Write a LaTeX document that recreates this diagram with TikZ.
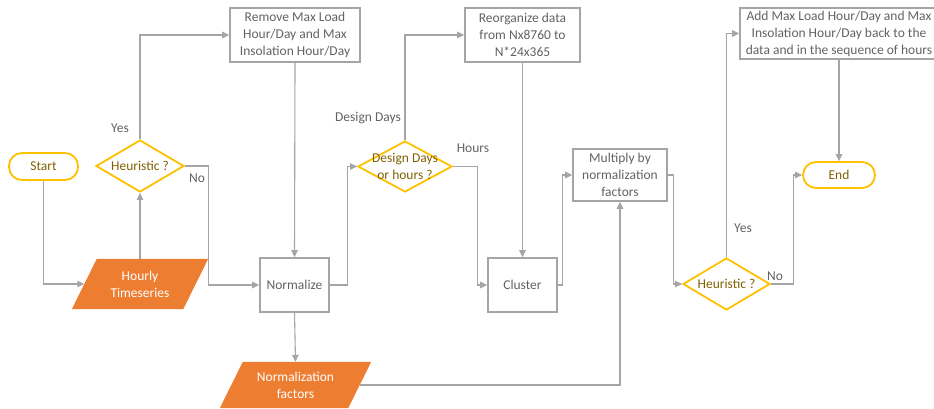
\documentclass[tikz,border=0pt]{standalone}
\usepackage{fontspec}
\setmainfont{Carlito}
\usetikzlibrary{shapes.geometric,arrows.meta,backgrounds}
\definecolor{linegray}{HTML}{A5A5A5}
\definecolor{txtgray}{HTML}{626262}
\definecolor{yel}{HTML}{FFC000}
\definecolor{gold}{HTML}{7F6000}
\definecolor{orng}{HTML}{ED7D31}
\tikzset{
  fnt/.style={font=\fontsize{13.5}{17}\selectfont},
  box/.style={draw=linegray,line width=1.6pt,rectangle,inner sep=0pt,text=txtgray,align=center,fnt},
  term/.style={draw=yel,line width=1.8pt,rectangle,rounded corners=13pt,inner sep=0pt,text=gold,fnt},
  dia/.style={draw=yel,line width=1.8pt,diamond,inner sep=0pt},
  diatext/.style={text=gold,align=center,fnt},
  para/.style={rectangle,inner sep=0pt,text=white,align=center,fnt},
  arr/.style={draw=linegray,line width=1.1pt,-{Triangle[length=7pt,width=6.5pt]}},
  lbl/.style={text=txtgray,fnt,inner sep=0pt}
}
\begin{document}
\begin{tikzpicture}[x=1pt,y=-1pt]
\useasboundingbox (0,0) rectangle (934,409);
\clip (0,0) rectangle (934,409);
% terminals
\node[term,minimum width=69,minimum height=27] (start) at (43.5,166.5) {Start};
\node[term,minimum width=72,minimum height=26] (end) at (839,175) {End};
% diamonds
\node[dia,minimum width=88,minimum height=52] (h1) at (140,166) {};
\node[diatext] at (h1) {Heuristic ?};
\node[dia,minimum width=94,minimum height=51] (d2) at (405,166.5) {};
\node[diatext] at (d2) {Design Days\\or hours ?};
\node[dia,minimum width=87,minimum height=52] (h2) at (726.5,284) {};
\node[diatext] at (h2) {Heuristic ?};
% boxes
\node[box,minimum width=130,minimum height=54] (remove) at (295,35) {Remove Max Load\\Hour/Day and Max\\Insolation Hour/Day};
\node[box,minimum width=69,minimum height=54] (norm) at (294.5,285) {Normalize};
\node[box,minimum width=115,minimum height=54] (reorg) at (522.5,35) {Reorganize data\\from Nx8760 to\\N*24x365};
\node[box,minimum width=69,minimum height=54] (cluster) at (522.5,285) {Cluster};
\node[box,minimum width=94,minimum height=52] (mult) at (620,175) {Multiply by\\normalization\\factors};
\node[box,minimum width=198,minimum height=51] (add) at (839,33.5) {Add Max Load Hour/Day and Max\\Insolation Hour/Day back to the\\data and in the sequence of hours};
% parallelograms
\node[para,minimum width=111,minimum height=50] (hourly) at (140,284) {Hourly\\Timeseries};
\node[para,minimum width=128,minimum height=46] (nf) at (295.5,385) {Normalization\\factors};
\begin{scope}[on background layer]
\fill[orng] ([xshift=12.5]hourly.north west) -- ([xshift=12.5]hourly.north east) -- ([xshift=-12.5]hourly.south east) -- ([xshift=-12.5]hourly.south west) -- cycle;
\fill[orng] ([xshift=11.5]nf.north west) -- ([xshift=11.5]nf.north east) -- ([xshift=-11.5]nf.south east) -- ([xshift=-11.5]nf.south west) -- cycle;
\end{scope}
% connectors
\draw[arr] (start.south) |- (hourly.west);
\draw[arr] (hourly.north) -- (h1.south);
\draw[arr] (h1.north) |- (remove.west);
\draw[arr] (h1.east) -- ++(24,0) |- (norm.west);
\draw[arr] (remove.south) -- (norm.north);
\draw[arr] (norm.south) -- (nf.north);
\draw[arr] (norm.east) -- ++(18,0) |- (d2.west);
\draw[arr] (d2.north) |- (reorg.west);
\draw[arr] (d2.east) -- ++(25,0) |- (cluster.west);
\draw[arr] (reorg.south) -- (cluster.north);
\draw[arr] (cluster.east) -- ++(5,0) |- (mult.west);
\draw[arr] (nf.east) -| (mult.south);
\draw[arr] (mult.east) -- ++(6,0) |- (h2.west);
\draw[arr] (h2.north) |- (add.west);
\draw[arr] (h2.east) -- ++(23,0) |- (end.west);
\draw[arr] (add.south) -- (end.north);
% labels
\node[lbl] (l1) at (120,128) {Yes};
\node[lbl] (l2) at (197,178) {No};
\node[lbl] (l3) at (368,118) {Design Days};
\node[lbl] (l4) at (473,148) {Hours};
\node[lbl] (l5) at (743,228) {Yes};
\node[lbl] (l6) at (775,276) {No};
\end{tikzpicture}
\end{document}
